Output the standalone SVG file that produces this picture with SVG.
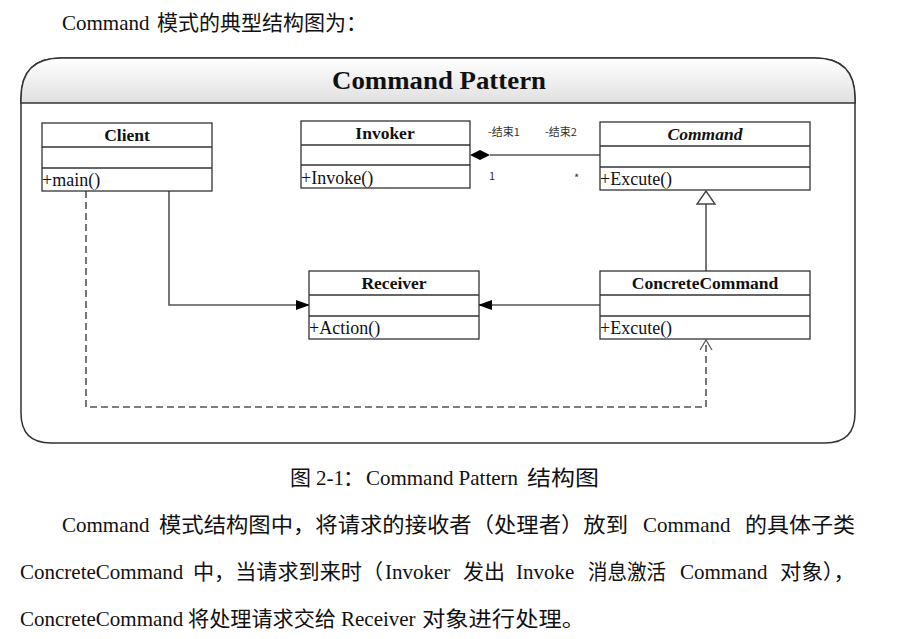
<svg xmlns="http://www.w3.org/2000/svg" width="905" height="639" viewBox="0 0 905 639">
<defs>
<linearGradient id="hdr" x1="0" y1="0" x2="0" y2="1">
<stop offset="0" stop-color="#ffffff"/>
<stop offset="1" stop-color="#e0e0e0"/>
</linearGradient>
<marker id="filled" markerWidth="14" markerHeight="10" refX="13" refY="5" orient="auto" markerUnits="userSpaceOnUse">
<path d="M0,0 L14,5 L0,10 Z" fill="#000"/>
</marker>
<marker id="open" markerWidth="14" markerHeight="14" refX="12" refY="7" orient="auto" markerUnits="userSpaceOnUse">
<path d="M2,1 L12,7 L2,13" fill="none" stroke="#555" stroke-width="1.2"/>
</marker>
</defs>
<style>
.txt{font-family:"Noto Sans CJK SC",serif;font-size:21px;fill:#111}
.lat{font-family:"Liberation Serif",serif}
.box{fill:#fff;stroke:#333;stroke-width:1.3}
.sep{stroke:#333;stroke-width:1.3}
.name{font-family:"Liberation Serif",serif;font-size:17.5px;font-weight:bold;text-anchor:middle;fill:#111}
.meth{font-family:"Liberation Serif",serif;font-size:18px;fill:#111}
.lbl{font-family:"Noto Sans CJK SC",serif;font-size:11px;fill:#333}
.conn{fill:none;stroke:#555;stroke-width:1.6}
</style>
<text class="txt" y="30" font-size="20"><tspan class="lat" x="62" font-size="21">Command</tspan><tspan x="157">模式的典型结构图为：</tspan></text>

<g id="frame">
<path d="M61,58 L815,58 Q855,58 855,98 L855,413 Q855,443 825,443 L51,443 Q21,443 21,413 L21,98 Q21,58 61,58 Z" fill="#fff" stroke="#333" stroke-width="1.5"/>
<path d="M61,58 L815,58 Q855,58 855,98 L855,103 L21,103 L21,98 Q21,58 61,58 Z" fill="url(#hdr)" stroke="#333" stroke-width="1.5"/>
<text x="332" y="89" font-family="Liberation Serif,serif" font-size="26" font-weight="bold" fill="#111" textLength="214" lengthAdjust="spacingAndGlyphs">Command Pattern</text>
</g>

<g id="connectors">
<path class="conn" d="M169,191 L169,305 L309,305" marker-end="url(#filled)"/>
<path class="conn" d="M600,305 L479,305" marker-end="url(#filled)"/>
<path class="conn" d="M86,191 L86,407 L706,407 L706,340" stroke-dasharray="7,4" marker-end="url(#open)"/>
<path class="conn" d="M706,271 L706,204"/>
<path d="M697,204 L715,204 L706,191 Z" fill="#fff" stroke="#444" stroke-width="1.4"/>
<path class="conn" d="M490,155 L600,155"/>
<path d="M470,155 L480,150 L490,155 L480,160 Z" fill="#000"/>
<text class="lbl" x="488" y="136">-结束1</text>
<text class="lbl" x="545" y="136">-结束2</text>
<text class="lbl" x="489" y="180">1</text>
<text class="lbl" x="574" y="182">*</text>
</g>

<g id="client">
<rect class="box" x="42" y="123" width="170" height="68"/>
<line class="sep" x1="42" y1="147" x2="212" y2="147"/>
<line class="sep" x1="42" y1="168" x2="212" y2="168"/>
<text class="name" x="127" y="141">Client</text>
<text class="meth" x="42" y="186">+main()</text>
</g>

<g id="invoker">
<rect class="box" x="301" y="121" width="169" height="67"/>
<line class="sep" x1="301" y1="145" x2="470" y2="145"/>
<line class="sep" x1="301" y1="165" x2="470" y2="165"/>
<text class="name" x="385" y="139">Invoker</text>
<text class="meth" x="301" y="184">+Invoke()</text>
</g>

<g id="command">
<rect class="box" x="600" y="122" width="210" height="68"/>
<line class="sep" x1="600" y1="146" x2="810" y2="146"/>
<line class="sep" x1="600" y1="167" x2="810" y2="167"/>
<text class="name" x="705" y="140" font-style="italic">Command</text>
<text class="meth" x="600" y="185">+Excute()</text>
</g>

<g id="receiver">
<rect class="box" x="309" y="271" width="170" height="68"/>
<line class="sep" x1="309" y1="295" x2="479" y2="295"/>
<line class="sep" x1="309" y1="316" x2="479" y2="316"/>
<text class="name" x="394" y="289">Receiver</text>
<text class="meth" x="309" y="334">+Action()</text>
</g>

<g id="concretecommand">
<rect class="box" x="600" y="271" width="210" height="68"/>
<line class="sep" x1="600" y1="295" x2="810" y2="295"/>
<line class="sep" x1="600" y1="316" x2="810" y2="316"/>
<text class="name" x="705" y="289">ConcreteCommand</text>
<text class="meth" x="600" y="334">+Excute()</text>
</g>

<text class="txt" y="485"><tspan x="290">图</tspan><tspan class="lat" x="316">2-1</tspan><tspan x="343">：</tspan><tspan class="lat" x="366" textLength="152" lengthAdjust="spacingAndGlyphs">Command Pattern</tspan><tspan x="527" textLength="72" lengthAdjust="spacingAndGlyphs">结构图</tspan></text>

<text class="txt" y="532"><tspan class="lat" x="62">Command</tspan><tspan x="159" textLength="469" lengthAdjust="spacingAndGlyphs">模式结构图中，将请求的接收者（处理者）放到</tspan><tspan class="lat" x="643">Command</tspan><tspan x="745" textLength="110" lengthAdjust="spacingAndGlyphs">的具体子类</tspan></text>
<text class="txt" y="579"><tspan class="lat" x="20">ConcreteCommand</tspan><tspan x="193" textLength="190" lengthAdjust="spacingAndGlyphs">中，当请求到来时（</tspan><tspan class="lat" x="385">Invoker</tspan><tspan x="463">发出</tspan><tspan class="lat" x="516">Invoke</tspan><tspan x="588" textLength="78" lengthAdjust="spacingAndGlyphs">消息激活</tspan><tspan class="lat" x="680">Command</tspan><tspan x="780" textLength="75" lengthAdjust="spacingAndGlyphs">对象），</tspan></text>
<text class="txt" y="626"><tspan class="lat" x="20">ConcreteCommand</tspan><tspan x="188" textLength="148" lengthAdjust="spacingAndGlyphs">将处理请求交给</tspan><tspan class="lat" x="341">Receiver</tspan><tspan x="422" textLength="163" lengthAdjust="spacingAndGlyphs">对象进行处理。</tspan></text>
</svg>
